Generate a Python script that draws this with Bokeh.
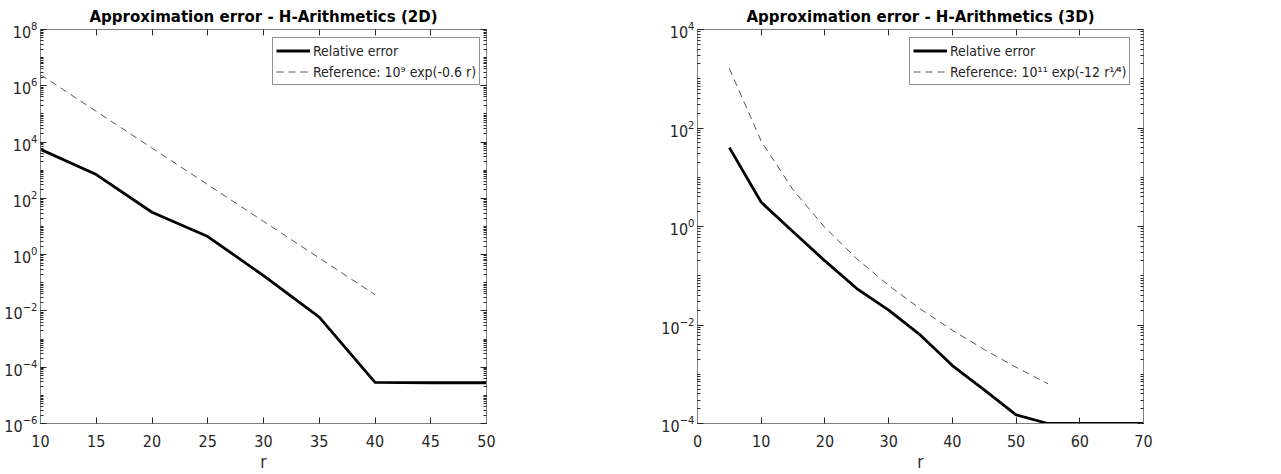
from bokeh.plotting import figure
from bokeh.layouts import row
from bokeh.models import (FixedTicker, LogAxis, LinearAxis, Range1d, Legend, LegendItem,
                          CustomJSTickFormatter)
from bokeh.embed import file_html
from bokeh.resources import INLINE

# ---- data: 2D ----
r2d = [10, 15, 20, 25, 30, 35, 40, 45, 50]
err2d = [5.5e3, 7.0e2, 32.0, 4.4, 0.18, 6.0e-3, 2.9e-5, 2.8e-5, 2.8e-5]
r2d_ref = [10, 15, 20, 25, 30, 35, 40]
ref2d = [2.479e6, 1.234e5, 6.144e3, 305.9, 15.23, 0.7583, 0.03775]

# ---- data: 3D ----
r3d = [5, 10, 15, 20, 25, 30, 35, 40, 45, 50, 55, 60, 65, 70]
err3d = [40.0, 3.1, 0.78, 0.20, 0.055, 0.020, 6.2e-3, 1.5e-3, 4.8e-4, 1.5e-4,
         1.0e-4, 1.0e-4, 1.0e-4, 1.0e-4]
r3d_ref = [5, 10, 15, 20, 25, 30, 35, 40, 45, 50, 55]
ref3d = [1610.0, 54.0, 5.54, 0.953, 0.222, 0.0635, 0.0211, 7.83e-3, 3.18e-3,
         1.385e-3, 6.42e-4]

titles = ["Approximation error - H-Arithmetics (2D)",
          "Approximation error - H-Arithmetics (3D)"]
legend_labels_2d = ["Relative error", "Reference: 10\u2079 exp(-0.6 r)"]
legend_labels_3d = ["Relative error", "Reference: 10\u00b9\u00b9 exp(-12 r\u00b9\u2044\u2074)"]

FONT = "'DejaVu Sans Condensed', 'DejaVu Sans', sans-serif"
AXC = "#262626"


def log_ticks(lo, hi, step):
    major = [10.0 ** k for k in range(lo, hi + 1, step)]
    minor = [m * 10.0 ** k for k in range(lo, hi) for m in range(1, 10)]
    return major, minor


def style_axis(ax, size="15px", show_labels=True):
    ax.major_tick_in = 6
    ax.major_tick_out = 0
    ax.minor_tick_in = 3
    ax.minor_tick_out = 0
    ax.axis_line_color = "#7f7f7f"
    ax.major_tick_line_color = AXC
    ax.minor_tick_line_color = AXC
    ax.major_label_text_font = FONT
    ax.major_label_text_font_size = size
    ax.major_label_text_color = AXC
    ax.axis_label_text_font = FONT
    ax.axis_label_text_font_size = "17px"
    ax.axis_label_text_font_style = "normal"
    ax.axis_label_text_color = AXC
    if not show_labels:
        ax.formatter = CustomJSTickFormatter(code="return ''")
        ax.major_label_standoff = 0


def make(title, xs, ys, xr, yr, x_ticks, y_lo, y_hi, labels, border_left, border_right,
         legend_xy):
    p = figure(frame_width=446, frame_height=394, output_backend="svg",
               toolbar_location=None,
               y_axis_type="log", x_range=Range1d(*xr), y_range=Range1d(*yr),
               min_border_left=border_left, min_border_right=border_right,
               min_border_top=0, min_border_bottom=0, title=title)
    p.title.text_font = FONT
    p.title.text_font_size = "16.7px"
    p.title.text_font_style = "bold"
    p.title.align = "center"
    p.title.text_color = "#000000"
    p.title.standoff = 7
    p.grid.visible = False
    p.outline_line_color = "#7f7f7f"
    p.background_fill_color = "white"
    p.border_fill_color = "white"

    major, minor = log_ticks(y_lo, y_hi, 2)
    p.xaxis.ticker = FixedTicker(ticks=x_ticks, minor_ticks=[])
    p.yaxis.ticker = FixedTicker(ticks=major, minor_ticks=minor)
    p.xaxis.axis_label = "r"
    style_axis(p.xaxis[0], "16px")
    style_axis(p.yaxis[0], "16px")
    p.xaxis.axis_label_standoff = 2
    p.xaxis.major_label_standoff = 11
    p.yaxis.major_label_standoff = 3

    top = LinearAxis(ticker=FixedTicker(ticks=x_ticks, minor_ticks=[]))
    style_axis(top, show_labels=False)
    p.add_layout(top, "above")
    right = LogAxis(ticker=FixedTicker(ticks=major, minor_ticks=minor))
    style_axis(right, show_labels=False)
    p.add_layout(right, "right")

    x1, x2 = xs
    y1, y2 = ys
    l1 = p.line(x1, y1, line_color="black", line_width=2.8)
    l2 = p.line(x2, y2, line_color="#555555", line_width=1, line_dash="7 5")

    leg = Legend(items=[LegendItem(label=labels[0], renderers=[l1]),
                        LegendItem(label=labels[1], renderers=[l2])],
                 location=legend_xy)
    leg.label_text_font = FONT
    leg.label_text_font_size = "14px"
    leg.label_text_color = AXC
    leg.glyph_width = 34
    leg.glyph_height = 19
    leg.label_standoff = 3
    leg.spacing = 2
    leg.padding = 3
    leg.margin = 0
    leg.border_line_color = "#262626"
    leg.border_line_width = 1
    leg.label_height = 19
    p.add_layout(leg)
    return p


p1 = make(titles[0], (r2d, r2d_ref), (err2d, ref2d), (10, 50), (1e-6, 1e8),
          list(range(10, 51, 5)), -6, 8, legend_labels_2d, 40, 152, (232, 338))
p2 = make(titles[1], (r3d, r3d_ref), (err3d, ref3d), (0, 70), (1e-4, 1e4),
          list(range(0, 71, 10)), -4, 4, legend_labels_3d, 59, 110, (212, 338))

layout = row(p1, p2)
open("out.html", "w").write(file_html(layout, INLINE))
